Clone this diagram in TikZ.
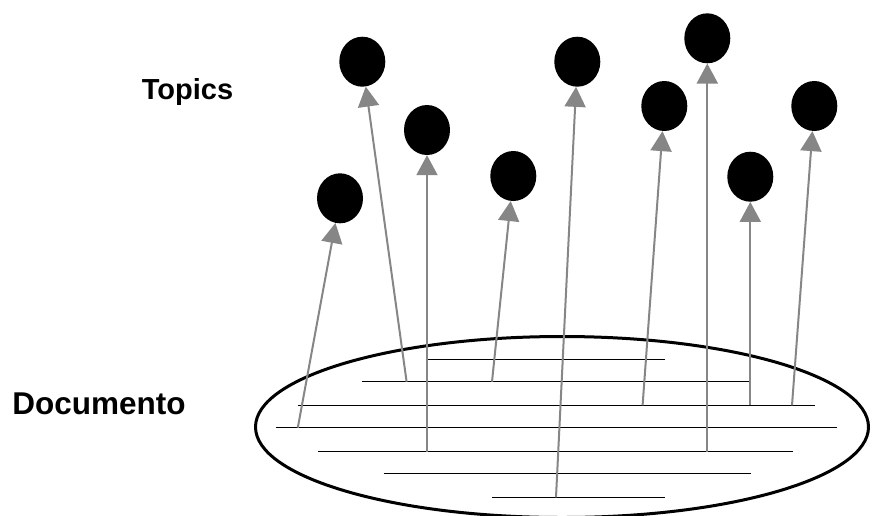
\documentclass[tikz,border=0pt]{standalone}
\usepackage{fontspec}
\setmainfont{Liberation Sans}
\usetikzlibrary{arrows.meta,shapes.geometric}
\definecolor{linkgray}{RGB}{134,134,134}
\begin{document}
\begin{tikzpicture}[x=1pt,y=-1pt,
  topic/.style={ellipse,fill=black,minimum width=46pt,minimum height=50pt,inner sep=0pt},
  docline/.style={line width=1.5pt,black},
  link/.style={draw=linkgray,line width=2pt,-{Triangle[length=20pt,width=21pt,fill=linkgray]}},
  lbl/.style={font=\fontsize{29}{34}\selectfont\bfseries,inner sep=0pt,anchor=base}]
\useasboundingbox (0,0) rectangle (875,515);
\clip (0,0) rectangle (875,515);
% labels
\node[lbl] (topics) at (187.5,99.5) {Topics};
\node[lbl,font=\fontsize{31.5}{36}\selectfont\bfseries] (documento) at (99,414.3) {Documento};
% document
\node[ellipse,draw,line width=3pt,minimum width=613pt,minimum height=181pt,inner sep=0pt] (doc) at (562,427) {};
% text lines
\draw[docline] (426.6,359.3) -- (664.5,359.3);
\draw[docline] (361.6,381.7) -- (750.2,381.7);
\draw[docline] (297.8,405.3) -- (814.8,405.3);
\draw[docline] (275.9,427.7) -- (836.7,427.7);
\draw[docline] (317.8,451.7) -- (792.8,451.7);
\draw[docline] (383.5,473.3) -- (751.0,473.3);
\draw[docline] (492.0,497.3) -- (664.5,497.3);
% topics
\node[topic] (t1) at (362.3,61.7) {};
\node[topic] (t2) at (427,130) {};
\node[topic] (t3) at (340,198.3) {};
\node[topic] (t4) at (513.3,176) {};
\node[topic] (t5) at (577.3,61.7) {};
\node[topic] (t6) at (664.3,106) {};
\node[topic] (t7) at (707.3,38.3) {};
\node[topic] (t8) at (750.3,176.7) {};
\node[topic] (t9) at (814.3,106) {};
% word positions
\coordinate (w1) at (406.6,381.7);
\coordinate (w2) at (427,451.7);
\coordinate (w3) at (297.8,427.7);
\coordinate (w4) at (492,381.7);
\coordinate (w5) at (556,497.3);
\coordinate (w6) at (642.6,405.3);
\coordinate (w7) at (707.3,451.7);
\coordinate (w8) at (750.3,405.3);
\coordinate (w9) at (792,405.3);
% links
\draw[link] (w1) -- (t1);
\draw[link] (w2) -- (t2);
\draw[link] (w3) -- (t3);
\draw[link] (w4) -- (t4);
\draw[link] (w5) -- (t5);
\draw[link] (w6) -- (t6);
\draw[link] (w7) -- (t7);
\draw[link] (w8) -- (t8);
\draw[link] (w9) -- (t9);
\end{tikzpicture}
\end{document}
